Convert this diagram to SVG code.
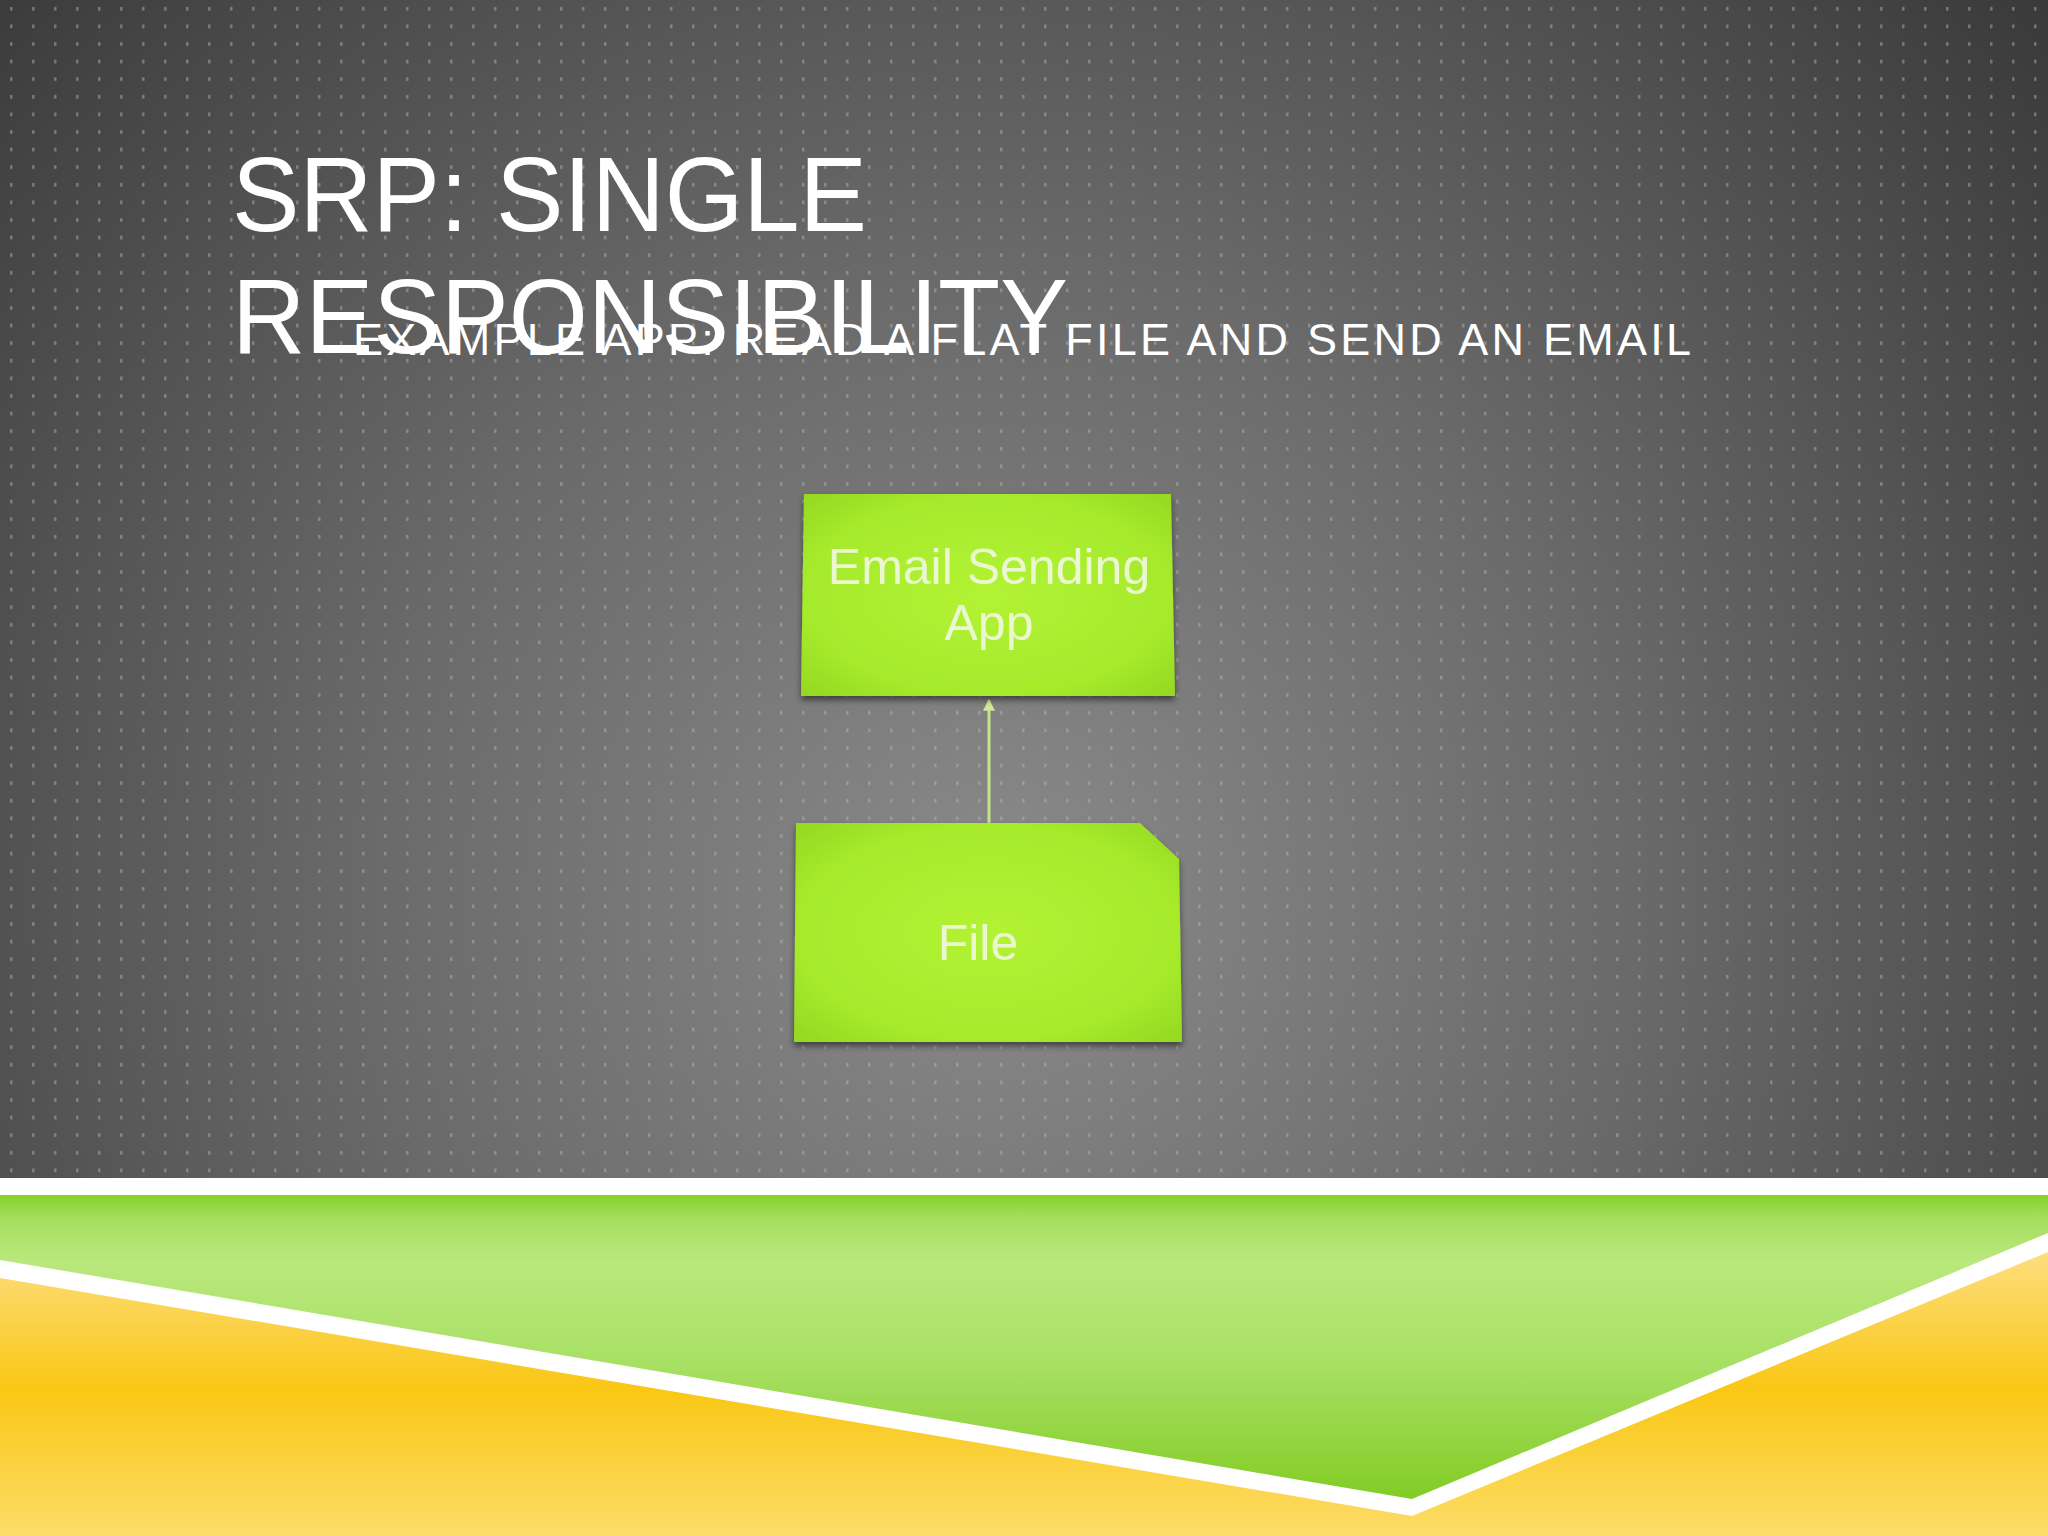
<svg xmlns="http://www.w3.org/2000/svg" width="2048" height="1536" viewBox="0 0 2048 1536">
<defs>
<radialGradient id="bg" cx="1000" cy="900" r="1400" gradientUnits="userSpaceOnUse">
<stop offset="0" stop-color="#8a8a8a"/>
<stop offset="0.45" stop-color="#6a6a6a"/>
<stop offset="1" stop-color="#383838"/>
</radialGradient>
<pattern id="dots" x="0" y="0" width="22" height="17.6" patternUnits="userSpaceOnUse">
<rect x="10" y="7" width="2.5" height="3.5" fill="#b4b4b4" opacity="0.5"/>
</pattern>
<linearGradient id="green" x1="0" y1="1195" x2="0" y2="1500" gradientUnits="userSpaceOnUse">
<stop offset="0" stop-color="#86d12c"/>
<stop offset="0.08" stop-color="#a6df60"/>
<stop offset="0.22" stop-color="#b9e87c"/>
<stop offset="0.55" stop-color="#a8e064"/>
<stop offset="1" stop-color="#82cc24"/>
</linearGradient>
<linearGradient id="yellow" x1="0" y1="1240" x2="0" y2="1536" gradientUnits="userSpaceOnUse">
<stop offset="0" stop-color="#fde089"/>
<stop offset="0.5" stop-color="#f9c714"/>
<stop offset="1" stop-color="#fddc68"/>
</linearGradient>
<radialGradient id="box" cx="0.5" cy="0.5" r="0.7">
<stop offset="0" stop-color="#b2f334"/>
<stop offset="0.7" stop-color="#a6ea2c"/>
<stop offset="1" stop-color="#94d822"/>
</radialGradient>
<filter id="shadow" x="-10%" y="-10%" width="120%" height="130%">
<feGaussianBlur in="SourceAlpha" stdDeviation="3"/>
<feOffset dx="0" dy="4" result="b"/>
<feComponentTransfer><feFuncA type="linear" slope="0.5"/></feComponentTransfer>
<feMerge><feMergeNode/><feMergeNode in="SourceGraphic"/></feMerge>
</filter>
<marker id="arrow" viewBox="0 0 10 10" refX="9" refY="5" markerWidth="4" markerHeight="4" orient="auto">
<path d="M0,0 L10,5 L0,10 z" fill="#cfe99a"/>
</marker>
<style>
.title{font-family:"Liberation Sans",Arial,sans-serif;fill:#ffffff;font-size:106px}
.sub{font-family:"Liberation Sans",Arial,sans-serif;fill:#ffffff;font-size:45px}
.lbl{font-family:"Liberation Sans",Arial,sans-serif;fill:#eaf7cf;font-size:50px;text-anchor:middle}
.node{fill:url(#box);filter:url(#shadow)}
.conn{stroke:#c6e58a;stroke-width:3;fill:none}
</style>
</defs>

<rect x="0" y="0" width="2048" height="1180" fill="url(#bg)"/>
<rect x="0" y="0" width="2048" height="1180" fill="url(#dots)"/>

<rect x="0" y="1178" width="2048" height="20" fill="#ffffff"/>
<rect x="0" y="1195" width="2048" height="341" fill="url(#yellow)"/>
<polygon points="0,1195 2048,1195 2048,1252 1412,1516 0,1278" fill="#ffffff"/>
<polygon points="0,1195 2048,1195 2048,1233 1412,1499 0,1260" fill="url(#green)"/>

<text class="title" x="232" y="231" textLength="635" lengthAdjust="spacingAndGlyphs">SRP: SINGLE</text>
<text class="title" x="232" y="353" textLength="836" lengthAdjust="spacingAndGlyphs">RESPONSIBILITY</text>
<text class="sub" x="353" y="355" textLength="1338" lengthAdjust="spacing">EXAMPLE APP: READ A FLAT FILE AND SEND AN EMAIL</text>

<g id="connectors">
<line class="conn" x1="989" y1="823" x2="989" y2="700" marker-end="url(#arrow)"/>
</g>

<g id="email-app">
<polygon class="node" points="804,494 1171,494 1175,696 801,696"/>
<text class="lbl" x="989" y="584">Email Sending</text>
<text class="lbl" x="989" y="640">App</text>
</g>

<g id="file">
<polygon class="node" points="796,823 1140,823 1179,859 1182,1042 794,1042"/>
<text class="lbl" x="978" y="960">File</text>
</g>
</svg>
